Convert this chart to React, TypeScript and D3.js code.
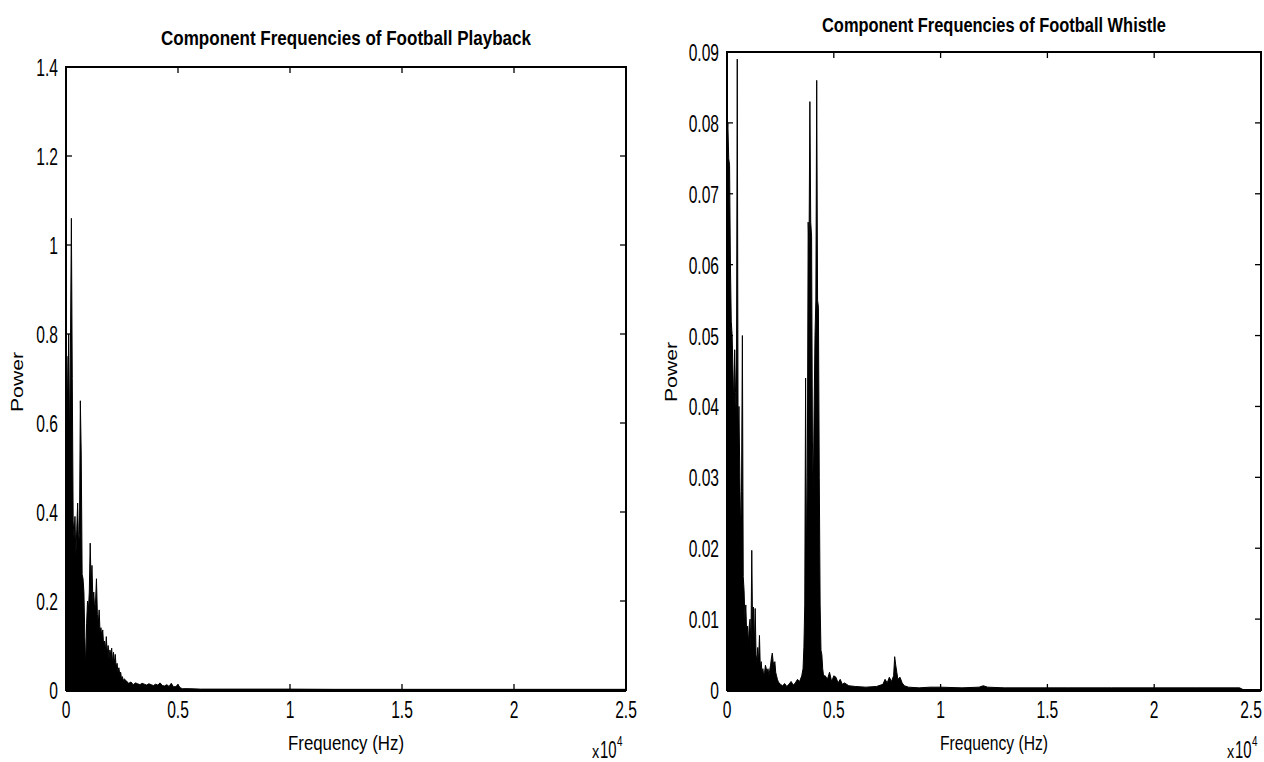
import React from 'react';
import * as d3 from 'd3';

// ---------- shared axis data ----------
const xTickValues = [0, 5000, 10000, 15000, 20000, 25000];
const xTickLabels = ['0', '0.5', '1', '1.5', '2', '2.5'];

// ---------- Playback panel ----------
const playbackTitle = 'Component Frequencies of Football Playback';
const playbackYTicks = [0, 0.2, 0.4, 0.6, 0.8, 1.0, 1.2, 1.4];
const playbackYTickLabels = ['0', '0.2', '0.4', '0.6', '0.8', '1', '1.2', '1.4'];
// dense low band: bins every 40 Hz starting at 0 Hz
const playbackDenseStartHz = 0;
const playbackDenseStepHz = 40;
const playbackDensePower = [
  0.45, 0.75, 0.62, 0.80, 0.55, 0.78, 1.06, 0.70, 0.38, 0.34,
  0.39, 0.30, 0.36, 0.42, 0.33, 0.35, 0.65, 0.53, 0.26, 0.25,
  0.22, 0.12, 0.05, 0.15, 0.20, 0.18, 0.22, 0.33, 0.24, 0.28,
  0.20, 0.22, 0.18, 0.20, 0.25, 0.17, 0.15, 0.18, 0.13, 0.14,
  0.12, 0.135, 0.10, 0.11, 0.09, 0.12, 0.08, 0.10, 0.07, 0.09,
  0.08, 0.094, 0.06, 0.085, 0.06, 0.08, 0.05, 0.06, 0.04, 0.05,
  0.035, 0.04, 0.025, 0.03, 0.02, 0.025,
];
const playbackTailFreq = [
  2700, 2800, 2900, 3000, 3100, 3200, 3300, 3400, 3500, 3600, 3700, 3800, 3900,
  4000, 4100, 4200, 4300, 4400, 4500, 4600, 4700, 4800, 4900, 5000, 5100, 5200,
  5500, 6000, 7000, 8000, 10000, 12000, 15000, 18000, 20000, 22000, 24000, 25000,
];
const playbackTailPower = [
  0.02, 0.015, 0.018, 0.012, 0.016, 0.014, 0.012, 0.015, 0.013, 0.011, 0.014, 0.012, 0.010,
  0.013, 0.011, 0.016, 0.010, 0.009, 0.012, 0.008, 0.015, 0.007, 0.008, 0.012, 0.005, 0.003,
  0.003, 0.002, 0.002, 0.002, 0.002, 0.0015, 0.0015, 0.0015, 0.0015, 0.0015, 0.0015, 0.0015,
];

// ---------- Whistle panel ----------
const whistleTitle = 'Component Frequencies of Football Whistle';
const whistleYTicks = [0, 0.01, 0.02, 0.03, 0.04, 0.05, 0.06, 0.07, 0.08, 0.09];
const whistleYTickLabels = ['0', '0.01', '0.02', '0.03', '0.04', '0.05', '0.06', '0.07', '0.08', '0.09'];
const whistleLowStartHz = 0;
const whistleLowStepHz = 40;
const whistleLowPower = [
  0.078, 0.080, 0.075, 0.074, 0.060, 0.052, 0.050, 0.045, 0.040, 0.048,
  0.042, 0.038, 0.089, 0.035, 0.040, 0.030, 0.022, 0.028, 0.050, 0.016,
  0.014, 0.010, 0.012, 0.008, 0.009, 0.0065, 0.009, 0.010, 0.006, 0.0197,
  0.008, 0.0117, 0.006, 0.0115, 0.005, 0.004, 0.006, 0.004, 0.0077, 0.003,
  0.004, 0.0025, 0.003, 0.002, 0.0025, 0.0035, 0.003, 0.0025, 0.003, 0.002,
  0.0028, 0.0035, 0.0045, 0.0052, 0.004, 0.0035, 0.004, 0.0025, 0.002, 0.0015,
  0.0012, 0.001,
];
const whistleValleyFreq = [2500, 2600, 2700, 2800, 2900, 3000, 3100, 3200, 3300, 3400, 3500];
const whistleValleyPower = [0.0008, 0.0006, 0.0009, 0.0005, 0.0008, 0.0012, 0.0007, 0.001, 0.0015, 0.0012, 0.002];
const whistlePeakStartHz = 3560;
const whistlePeakStepHz = 40;
const whistlePeakPower = [
  0.003, 0.006, 0.012, 0.044, 0.018, 0.030, 0.066, 0.062, 0.083, 0.066,
  0.064, 0.035, 0.028, 0.040, 0.050, 0.055, 0.086, 0.055, 0.054, 0.030,
  0.012, 0.0056, 0.005, 0.003, 0.002,
];
const whistleHighFreq = [
  4600, 4700, 4800, 4900, 5000, 5100, 5200, 5300, 5400, 5500, 5700, 6000, 6500, 7000, 7300,
  7400, 7500, 7600, 7700, 7800, 7850, 7900, 7950, 8000, 8100, 8200, 8300, 8500, 9000, 9500,
  10000, 11000, 11800, 12000, 12200, 13000, 14000, 15000, 16000, 18000, 20000, 22000, 24000, 24200, 25000,
];
const whistleHighPower = [
  0.002, 0.0015, 0.0025, 0.0012, 0.002, 0.0018, 0.001, 0.0015, 0.0008, 0.001, 0.0006, 0.0005, 0.0004, 0.0005, 0.0008,
  0.0015, 0.001, 0.0018, 0.0012, 0.002, 0.0047, 0.0035, 0.0025, 0.0015, 0.0018, 0.001, 0.0006, 0.0004, 0.0003, 0.0004,
  0.0004, 0.0003, 0.0004, 0.0006, 0.0004, 0.0003, 0.0003, 0.0003, 0.0003, 0.0003, 0.0003, 0.0003, 0.0003, 0, 0,
];

type Pt = { f: number; p: number };

function gridSeries(start: number, step: number, vals: number[]): Pt[] {
  return vals.map((p, i) => ({ f: start + i * step, p }));
}
function pairSeries(fs: number[], ps: number[]): Pt[] {
  return fs.map((f, i) => ({ f, p: ps[i] }));
}

const playbackSeries: Pt[] = [
  ...gridSeries(playbackDenseStartHz, playbackDenseStepHz, playbackDensePower),
  ...pairSeries(playbackTailFreq, playbackTailPower),
];
const whistleSeries: Pt[] = [
  ...gridSeries(whistleLowStartHz, whistleLowStepHz, whistleLowPower),
  ...pairSeries(whistleValleyFreq, whistleValleyPower),
  ...gridSeries(whistlePeakStartHz, whistlePeakStepHz, whistlePeakPower),
  ...pairSeries(whistleHighFreq, whistleHighPower),
];

const FONT = '"Liberation Sans", Arial, "DejaVu Sans", sans-serif';

function SText(props: {
  x: number; y: number; s: string; size: number; sx?: number; anchor?: string; weight?: string | number;
}) {
  const { x, y, s, size, sx = 0.65, anchor = 'middle', weight = 'normal' } = props;
  return (
    <text
      transform={`translate(${x},${y}) scale(${sx},1)`}
      textAnchor={anchor}
      fontFamily={FONT}
      fontSize={size}
      fontWeight={weight}
      fill="#000"
    >
      {s}
    </text>
  );
}

type PanelProps = {
  x0: number; x1: number; yTop: number; yBot: number;
  yMax: number; yTicks: number[]; yTickLabels: string[];
  title: string; titleY: number; titleLen: number; titleSize: number;
  series: Pt[];
  powerY: number; powerX: number;
  xlabelLen: number;
};

function Panel(pp: PanelProps) {
  const { x0, x1, yTop, yBot, yMax, yTicks, yTickLabels, title, titleY, titleLen, titleSize, series, powerX, powerY, xlabelLen } = pp;
  const xs = d3.scaleLinear().domain([0, 25000]).range([x0, x1]);
  const ys = d3.scaleLinear().domain([0, yMax]).range([yBot, yTop]);
  const area = d3.area<Pt>().x(d => xs(d.f)).y0(yBot).y1(d => ys(d.p))(series) || '';
  const line = d3.line<Pt>().x(d => xs(d.f)).y(d => ys(d.p))(series) || '';
  const cx = (x0 + x1) / 2;
  const tl = 6;
  return (
    <g>
      <path d={area} fill="#000" stroke="none" />
      <path d={line} fill="none" stroke="#000" strokeWidth={1} />
      <rect x={x0} y={yTop} width={x1 - x0} height={yBot - yTop} fill="none" stroke="#000" strokeWidth={2} />
      <line x1={x0} x2={x1} y1={yBot + 1} y2={yBot + 1} stroke="#000" strokeWidth={2} />
      {xTickValues.map((v, i) => {
        const px = Math.min(xs(v), 1264 - 13);
        return (
          <g key={'xt' + i}>
            <line x1={xs(v)} x2={xs(v)} y1={yBot} y2={yBot - tl} stroke="#000" strokeWidth={1.3} />
            <line x1={xs(v)} x2={xs(v)} y1={yTop} y2={yTop + tl} stroke="#000" strokeWidth={1.3} />
            <SText x={px} y={yBot + 28} s={xTickLabels[i]} size={24} />
          </g>
        );
      })}
      {yTicks.map((v, i) => (
        <g key={'yt' + i}>
          <line x1={x0} x2={x0 + tl} y1={ys(v)} y2={ys(v)} stroke="#000" strokeWidth={1.3} />
          <line x1={x1} x2={x1 - tl} y1={ys(v)} y2={ys(v)} stroke="#000" strokeWidth={1.3} />
          <SText x={x0 - 8} y={ys(v) + 9} s={yTickLabels[i]} size={24} anchor="end" />
        </g>
      ))}
      <text
        x={cx} y={titleY} textAnchor="middle" fontFamily={FONT} fontWeight="bold" fontSize={titleSize}
        textLength={titleLen} lengthAdjust="spacingAndGlyphs"
      >
        {title}
      </text>
      <text
        x={cx} y={750} textAnchor="middle" fontFamily={FONT} fontSize={21}
        textLength={xlabelLen} lengthAdjust="spacingAndGlyphs"
      >
        Frequency (Hz)
      </text>
      <SText x={x1 - 34} y={758} s="x" size={18} anchor="start" sx={0.8} />
      <SText x={x1 - 26} y={758} s="10" size={24} anchor="start" sx={0.62} />
      <SText x={x1 - 9} y={746} s="4" size={14} anchor="start" sx={0.7} />
      <text
        transform={`translate(${powerX},${powerY}) rotate(-90)`}
        textAnchor="middle" fontFamily={FONT} fontSize={16}
        textLength={60} lengthAdjust="spacingAndGlyphs"
      >
        Power
      </text>
    </g>
  );
}

export default function App() {
  return (
    <svg
      width={1264}
      height={762}
      viewBox="0 0 1264 762"
      style={{ position: 'absolute', left: 0, top: 0, background: '#fff' }}
    >
      <rect x={0} y={0} width={1264} height={762} fill="#fff" />
      <Panel
        x0={66} x1={626} yTop={67} yBot={690}
        yMax={1.4} yTicks={playbackYTicks} yTickLabels={playbackYTickLabels}
        title={playbackTitle} titleY={45} titleLen={370} titleSize={21}
        series={playbackSeries} powerX={23} powerY={382} xlabelLen={116}
      />
      <Panel
        x0={727} x1={1261} yTop={52} yBot={690}
        yMax={0.09} yTicks={whistleYTicks} yTickLabels={whistleYTickLabels}
        title={whistleTitle} titleY={32} titleLen={344} titleSize={20}
        series={whistleSeries} powerX={677} powerY={372} xlabelLen={108}
      />
    </svg>
  );
}
